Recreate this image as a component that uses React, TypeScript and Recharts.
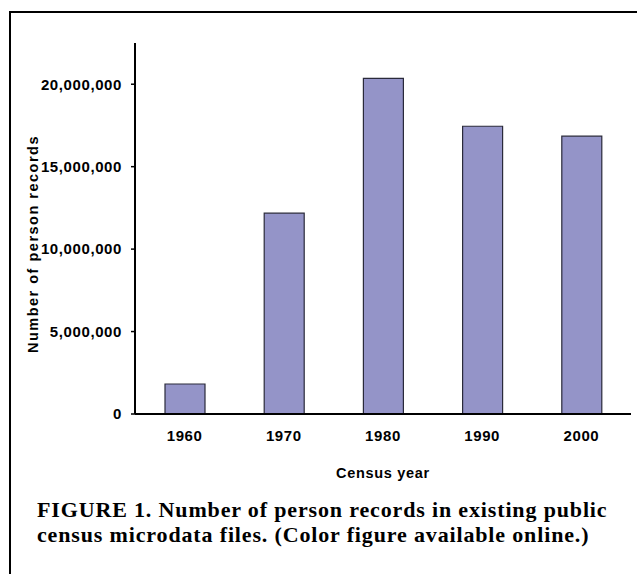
import { Bar, BarChart, Label, XAxis, YAxis } from 'recharts';

const years = ['1960', '1970', '1980', '1990', '2000'];
const personRecords = [1820000, 12180000, 20360000, 17450000, 16850000];
const yTicks = [0, 5000000, 10000000, 15000000, 20000000];

const data = years.map((year, i) => ({ year, records: personRecords[i] }));

const sans = 'Liberation Sans, Arial, sans-serif';

const tickFont = {
  fill: '#000',
  fontSize: 15,
  fontWeight: 700,
  fontFamily: sans,
  letterSpacing: 0.6,
};

export default function App() {
  return (
    <div
      style={{
        position: 'absolute',
        left: 0,
        top: 0,
        width: 637,
        height: 574,
        overflow: 'hidden',
        background: '#fff',
      }}
    >
      {/* figure frame, cut off at right and bottom */}
      <div
        style={{
          position: 'absolute',
          left: 9,
          top: 11,
          width: 700,
          height: 700,
          borderTop: '2px solid #000',
          borderLeft: '2px solid #000',
        }}
      />

      <div style={{ position: 'absolute', left: 0, top: 0 }}>
        <BarChart
          width={637}
          height={500}
          data={data}
          margin={{ top: 43, right: 6, left: 0, bottom: 22 }}
          barSize={40}
        >
          <YAxis
            width={135}
            domain={[0, 22500000]}
            ticks={yTicks}
            allowDataOverflow
            tickFormatter={v => Number(v).toLocaleString('en-US')}
            tick={tickFont}
            tickSize={4}
            tickMargin={9}
            tickLine={{ stroke: '#000', strokeWidth: 1.5 }}
            axisLine={{ stroke: '#000', strokeWidth: 2 }}
          >
            <Label
              content={() => (
                <text
                  x={38}
                  y={244}
                  transform="rotate(-90 38 244)"
                  textAnchor="middle"
                  fill="#000"
                  fontSize={14.5}
                  fontWeight={700}
                  fontFamily={sans}
                  letterSpacing={1.5}
                >
                  Number of person records
                </text>
              )}
            />
          </YAxis>
          <XAxis
            dataKey="year"
            height={64}
            tick={tickFont}
            tickLine={false}
            tickSize={0}
            tickMargin={16}
            axisLine={{ stroke: '#000', strokeWidth: 2 }}
          >
            <Label
              value="Census year"
              position="insideBottom"
              offset={0}
              style={{
                fill: '#000',
                fontSize: 14.5,
                fontWeight: 700,
                fontFamily: sans,
                letterSpacing: 0.7,
              }}
            />
          </XAxis>
          <Bar
            dataKey="records"
            fill="#9494c8"
            stroke="#2a2a3a"
            strokeWidth={1.2}
            isAnimationActive={false}
          />
        </BarChart>
      </div>

      <div
        style={{
          position: 'absolute',
          left: 37,
          top: 497,
          width: 600,
          fontFamily: 'Liberation Serif, "Times New Roman", serif',
          fontWeight: 700,
          fontSize: 22,
          letterSpacing: 0.85,
          lineHeight: '25px',
          color: '#000',
          whiteSpace: 'nowrap',
        }}
      >
        FIGURE 1. Number of person records in existing public
        <br />
        census microdata files. (Color figure available online.)
      </div>
    </div>
  );
}
